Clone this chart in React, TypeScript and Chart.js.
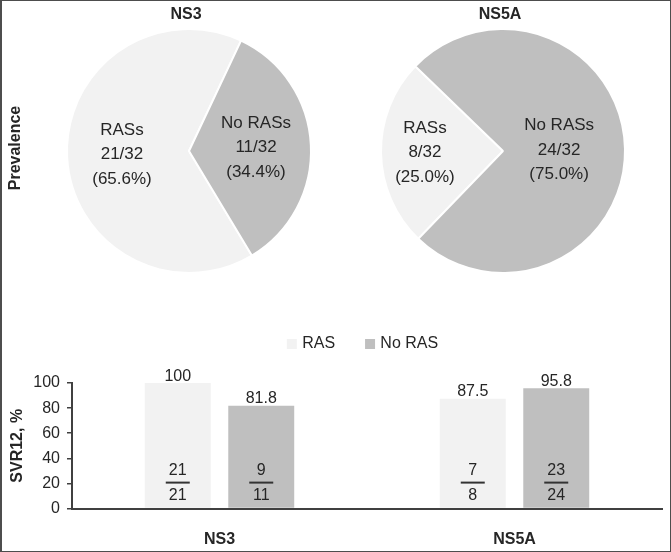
import React, { useEffect, useRef } from 'react';
import { Chart, registerables } from 'chart.js';

Chart.register(...registerables);

// ---- data ----
const pieCategories = ['RASs', 'No RASs'];
const ns3Counts = [21, 11];
const ns5aCounts = [8, 24];

const barCategories = ['NS3', 'NS5A'];
const barSeriesNames = ['RAS', 'No RAS'];
const rasSvr = [100, 87.5];
const noRasSvr = [81.8, 95.8];
const rasCured = [21, 7];
const rasTotal = [21, 8];
const noRasCured = [9, 23];
const noRasTotal = [11, 24];
const yTicks = [0, 20, 40, 60, 80, 100];

// ---- styles ----
const LIGHT = '#f2f2f2';
const DARK = '#bfbfbf';
const TEXT = '#262626';
const AXIS = '#404040';
const FONT = '"Liberation Sans", Arial, sans-serif';

Chart.defaults.font.family = FONT;
Chart.defaults.color = TEXT;

function makePiePlugin(title: string, labelRadius: number[], sideTitle?: string) {
  return {
    id: 'pieText',
    afterDraw(chart: any) {
      const ctx = chart.ctx;
      const meta = chart.getDatasetMeta(0);
      const values: number[] = chart.data.datasets[0].data;
      const total = values.reduce((a, b) => a + b, 0);
      ctx.save();
      ctx.fillStyle = TEXT;
      ctx.textAlign = 'center';
      ctx.textBaseline = 'middle';
      meta.data.forEach((arc: any, i: number) => {
        const p = arc.getProps(['x', 'y', 'startAngle', 'endAngle', 'outerRadius'], true);
        const mid = (p.startAngle + p.endAngle) / 2;
        const r = p.outerRadius * labelRadius[i];
        const cx = p.x + Math.cos(mid) * r;
        const cy = p.y + Math.sin(mid) * r;
        const v = values[i];
        const lines = [chart.data.labels[i], `${v}/${total}`, `(${((v / total) * 100).toFixed(1)}%)`];
        ctx.font = `17px ${FONT}`;
        lines.forEach((t: string, k: number) => ctx.fillText(t, cx, cy + (k - 1) * 24.5));
      });
      const a0 = meta.data[0];
      ctx.font = `bold 16px ${FONT}`;
      ctx.fillText(title, a0.x - 3, a0.y - 136);
      if (sideTitle) {
        ctx.translate(16, 148);
        ctx.rotate(-Math.PI / 2);
        ctx.fillText(sideTitle, 0, 0);
      }
      ctx.restore();
    },
  };
}

const fractions = [
  [rasCured, rasTotal],
  [noRasCured, noRasTotal],
];

const barTextPlugin = {
  id: 'barText',
  afterDatasetsDraw(chart: any) {
    const ctx = chart.ctx;
    const area = chart.chartArea;
    ctx.save();
    ctx.fillStyle = TEXT;
    ctx.textAlign = 'center';
    chart.data.datasets.forEach((ds: any, di: number) => {
      const meta = chart.getDatasetMeta(di);
      meta.data.forEach((bar: any, i: number) => {
        const v = ds.data[i];
        ctx.font = `16px ${FONT}`;
        ctx.textBaseline = 'alphabetic';
        ctx.fillText(String(v), bar.x, bar.y - 2.5);
        const lineY = area.bottom - 26;
        ctx.textBaseline = 'middle';
        ctx.fillText(String(fractions[di][0][i]), bar.x, lineY - 12);
        ctx.fillText(String(fractions[di][1][i]), bar.x, lineY + 12.5);
        ctx.strokeStyle = '#333333';
        ctx.lineWidth = 2;
        ctx.beginPath();
        ctx.moveTo(bar.x - 12, lineY);
        ctx.lineTo(bar.x + 12, lineY);
        ctx.stroke();
      });
    });
    // legend
    ctx.font = `16px ${FONT}`;
    const box = 10;
    const gapText = 5.3;
    const gapItem = 30;
    const widths = chart.data.datasets.map((ds: any) => box + gapText + ctx.measureText(ds.label).width);
    const total = widths.reduce((a: number, b: number) => a + b, 0) + gapItem * (widths.length - 1);
    let x = (area.left + area.right) / 2 - total / 2 - 4.5;
    const y = area.top - 39;
    ctx.textAlign = 'left';
    ctx.textBaseline = 'middle';
    chart.data.datasets.forEach((ds: any, di: number) => {
      ctx.fillStyle = ds.backgroundColor;
      ctx.fillRect(x, y - box / 2, box, box);
      ctx.fillStyle = TEXT;
      ctx.fillText(ds.label, x + box + gapText, y);
      x += widths[di] + gapItem;
    });
    ctx.restore();
  },
};

function pieConfig(counts: number[], rotation: number, plugin: any): any {
  return {
    type: 'pie',
    data: {
      labels: pieCategories,
      datasets: [
        {
          data: counts,
          backgroundColor: [LIGHT, DARK],
          borderColor: '#ffffff',
          borderWidth: 2,
        },
      ],
    },
    options: {
      responsive: false,
      animation: false,
      events: [],
      rotation,
      radius: 122,
      layout: { padding: 0 },
      plugins: { legend: { display: false }, tooltip: { enabled: false } },
    },
    plugins: [plugin],
  };
}

export default function App() {
  const pie1 = useRef<HTMLCanvasElement>(null);
  const pie2 = useRef<HTMLCanvasElement>(null);
  const barRef = useRef<HTMLCanvasElement>(null);

  useEffect(() => {
    const c1 = new Chart(pie1.current as HTMLCanvasElement, pieConfig(ns3Counts, 149, makePiePlugin('NS3', [0.55, 0.55], 'Prevalence')));
    const c2 = new Chart(pie2.current as HTMLCanvasElement, pieConfig(ns5aCounts, 224, makePiePlugin('NS5A', [0.64, 0.46])));
    const c3 = new Chart(barRef.current as HTMLCanvasElement, {
      type: 'bar',
      data: {
        labels: barCategories,
        datasets: [
          { label: barSeriesNames[0], data: rasSvr, backgroundColor: LIGHT, categoryPercentage: 0.566, barPercentage: 0.79 },
          { label: barSeriesNames[1], data: noRasSvr, backgroundColor: DARK, categoryPercentage: 0.566, barPercentage: 0.79 },
        ],
      },
      options: {
        responsive: false,
        animation: false,
        events: [],
        layout: { padding: { top: 83, left: 4, right: 9, bottom: 2 } },
        plugins: { legend: { display: false }, tooltip: { enabled: false } },
        scales: {
          x: {
            grid: { display: false, drawTicks: false },
            border: { display: true, color: AXIS, width: 2 },
            ticks: { color: TEXT, font: { family: FONT, size: 16, weight: 'bold' }, padding: 21 },
            afterFit: (s: any) => {
              s.height = 41.4;
            },
          },
          y: {
            min: 0,
            max: 100,
            afterBuildTicks: (s: any) => {
              s.ticks = yTicks.map((v) => ({ value: v }));
            },
            grid: { drawOnChartArea: false, drawTicks: true, tickLength: 5, color: AXIS, lineWidth: 1.5 },
            border: { color: AXIS, width: 2 },
            ticks: { color: TEXT, font: { family: FONT, size: 16 }, padding: 7 },
            title: {
              display: true,
              text: 'SVR12, %',
              color: TEXT,
              font: { family: FONT, size: 16, weight: 'bold' },
              padding: { top: 4, bottom: 4 },
            },
            afterFit: (s: any) => {
              s.width = 68;
            },
          },
        },
      } as any,
      plugins: [barTextPlugin],
    });
    return () => {
      c1.destroy();
      c2.destroy();
      c3.destroy();
    };
  }, []);

  return (
    <div style={{ position: 'absolute', left: 0, top: 0, width: 671, height: 552, background: '#ffffff', overflow: 'hidden' }}>
      <canvas ref={pie1} width={378} height={302} style={{ position: 'absolute', left: 0, top: 0 }} />
      <canvas ref={pie2} width={250} height={302} style={{ position: 'absolute', left: 378, top: 0 }} />
      <canvas ref={barRef} width={671} height={252} style={{ position: 'absolute', left: 0, top: 300 }} />
      <div
        style={{
          position: 'absolute',
          left: 0,
          top: 0,
          width: 671,
          height: 552,
          boxSizing: 'border-box',
          border: '1px solid #4d4d4d',
          borderLeftWidth: 2,
          pointerEvents: 'none',
        }}
      />
    </div>
  );
}
